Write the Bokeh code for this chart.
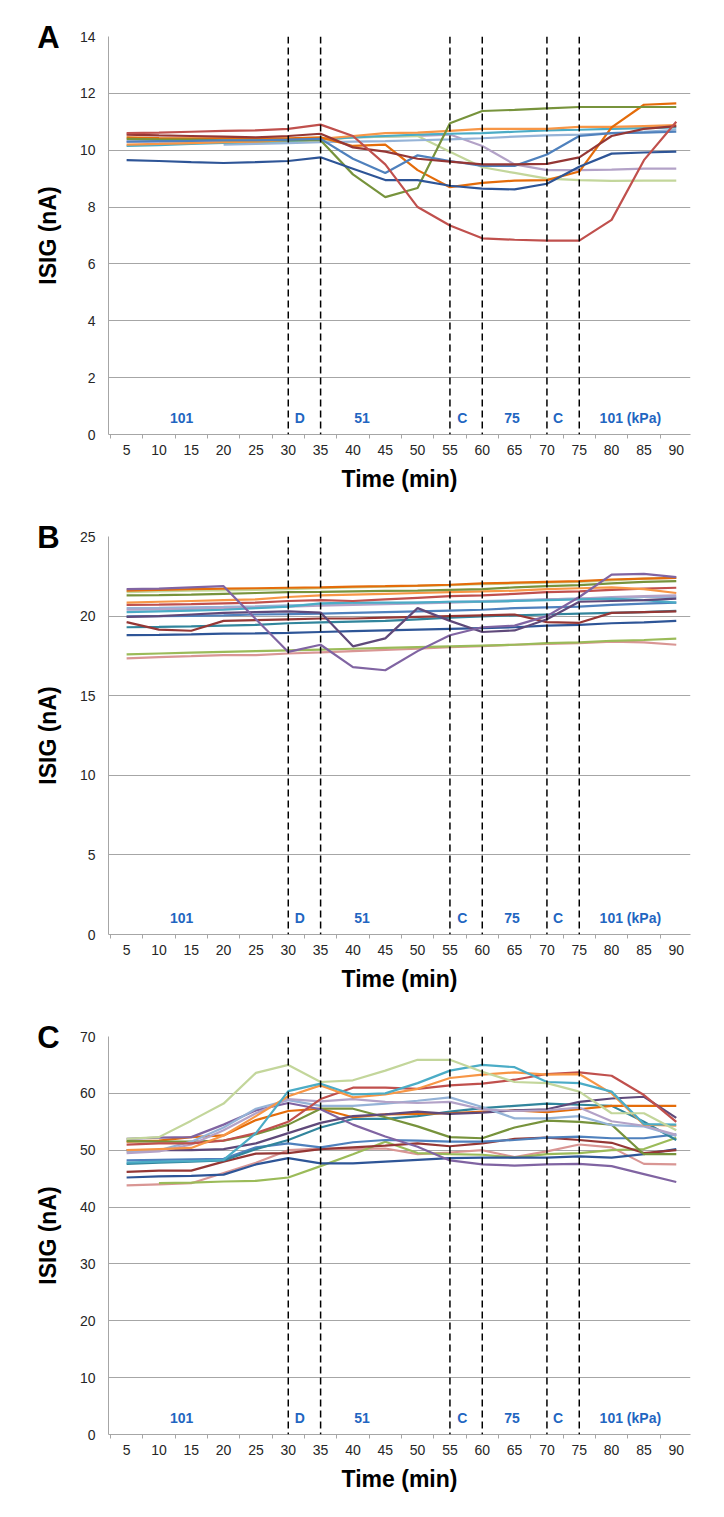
from bokeh.plotting import figure
from bokeh.models import Range1d, FixedTicker, Span, Label
from bokeh.layouts import column
from bokeh.embed import file_html
from bokeh.resources import INLINE

NaN = float("nan")

# ---------------- data ----------------
times = [5, 10, 15, 20, 25, 30, 35, 40, 45, 50, 55, 60, 65, 70, 75, 80, 85, 90]
phase_lines = [30, 35, 55, 60, 70, 75]
phase_texts = ["101", "D", "51", "C", "75", "C", "101 (kPa)"]
phase_pos = [13.5, 31.8, 41.4, 56.9, 64.6, 71.7, 82.9]

# Panel A
a_lavender = [10.3, 10.3, 10.3, 10.3, 10.32, 10.35, 10.4, 10.45, 10.48, 10.5, 10.55, 10.15, 9.5, 9.3, 9.3, 9.32, 9.35, 9.35]
a_lightgreen = [NaN, NaN, NaN, 10.25, 10.28, 10.3, 10.35, 10.45, 10.48, 10.5, 9.95, 9.4, 9.2, 9.0, 8.95, 8.92, 8.93, 8.93]
a_lightblue = [NaN, NaN, NaN, 10.2, 10.22, 10.25, 10.28, 10.3, 10.32, 10.35, 10.38, 10.42, 10.48, 10.52, 10.55, 10.6, 10.65, 10.72]
a_teal = [10.15, 10.18, 10.22, 10.26, 10.3, 10.33, 10.38, 10.45, 10.5, 10.55, 10.58, 10.6, 10.65, 10.7, 10.72, 10.75, 10.78, 10.8]
a_orange = [10.2, 10.22, 10.25, 10.28, 10.3, 10.35, 10.4, 10.5, 10.6, 10.62, 10.68, 10.75, 10.75, 10.75, 10.82, 10.82, 10.85, 10.88]
a_darkorange = [10.45, 10.43, 10.42, 10.42, 10.42, 10.42, 10.45, 10.15, 10.2, 9.3, 8.7, 8.85, 8.93, 8.95, 9.25, 10.8, 11.6, 11.65]
a_olive = [10.4, 10.38, 10.37, 10.35, 10.35, 10.35, 10.35, 9.15, 8.35, 8.67, 10.95, 11.38, 11.42, 11.47, 11.52, 11.52, 11.52, 11.52]
a_blue = [10.3, 10.32, 10.33, 10.35, 10.35, 10.37, 10.4, 9.7, 9.2, 9.82, 9.62, 9.45, 9.45, 9.85, 10.5, 10.6, 10.62, 10.65]
a_darkblue = [9.65, 9.62, 9.58, 9.55, 9.58, 9.62, 9.75, 9.35, 8.95, 8.95, 8.75, 8.65, 8.62, 8.82, 9.42, 9.88, 9.92, 9.95]
a_darkred = [10.55, 10.52, 10.5, 10.48, 10.45, 10.5, 10.58, 10.1, 9.95, 9.7, 9.6, 9.5, 9.5, 9.52, 9.75, 10.5, 10.75, 10.85]
a_red = [10.6, 10.62, 10.65, 10.68, 10.7, 10.75, 10.9, 10.5, 9.5, 8.0, 7.35, 6.9, 6.85, 6.82, 6.82, 7.55, 9.65, 11.0]

# Panel B
b_pink = [17.35, 17.42, 17.48, 17.55, 17.55, 17.65, 17.72, 17.8, 17.88, 17.95, 18.05, 18.12, 18.2, 18.25, 18.3, 18.4, 18.35, 18.2]
b_lime = [17.6, 17.65, 17.7, 17.75, 17.8, 17.85, 17.9, 17.95, 18.0, 18.05, 18.1, 18.15, 18.2, 18.3, 18.35, 18.45, 18.5, 18.58]
b_darkblue = [18.8, 18.82, 18.85, 18.9, 18.92, 18.95, 19.0, 19.05, 19.1, 19.15, 19.2, 19.25, 19.3, 19.4, 19.45, 19.55, 19.6, 19.7]
b_darkteal = [19.3, 19.32, 19.35, 19.4, 19.45, 19.55, 19.6, 19.65, 19.7, 19.8, 19.9, 19.98, 20.05, 20.1, 20.15, 20.2, 20.25, 20.33]
b_darkred = [19.62, 19.15, 19.08, 19.7, 19.75, 19.8, 19.85, 19.85, 19.9, 19.95, 20.0, 20.05, 20.1, 19.62, 19.58, 20.2, 20.25, 20.3]
b_blue = [19.98, 20.0, 20.02, 20.05, 20.1, 20.12, 20.15, 20.2, 20.25, 20.3, 20.35, 20.4, 20.5, 20.55, 20.6, 20.7, 20.78, 20.85]
b_lightblue = [20.5, 20.52, 20.55, 20.58, 20.62, 20.68, 20.72, 20.75, 20.8, 20.85, 20.9, 20.95, 21.0, 21.05, 21.1, 21.15, 21.2, 21.2]
b_lavender = [20.4, 20.42, 20.45, 20.5, 20.55, 20.6, 20.65, 20.7, 20.75, 20.8, 20.85, 20.9, 20.95, 21.05, 21.1, 21.2, 21.25, 21.3]
b_teal = [20.25, 20.3, 20.35, 20.4, 20.5, 20.6, 20.8, 20.85, 20.85, 20.85, 20.9, 20.9, 20.95, 21.0, 21.05, 21.1, 21.0, 20.85]
b_red = [20.7, 20.72, 20.75, 20.8, 20.85, 20.95, 21.0, 20.95, 21.05, 21.15, 21.25, 21.3, 21.4, 21.5, 21.55, 21.65, 21.72, 21.78]
b_orange = [20.85, 20.9, 20.95, 21.0, 21.05, 21.2, 21.3, 21.35, 21.4, 21.45, 21.5, 21.55, 21.6, 21.7, 21.75, 21.8, 21.7, 21.45]
b_green = [21.3, 21.32, 21.35, 21.4, 21.45, 21.5, 21.52, 21.55, 21.58, 21.6, 21.65, 21.7, 21.8, 21.88, 21.95, 22.05, 22.15, 22.2]
b_lightgreen = [21.5, 21.55, 21.6, 21.62, 21.65, 21.7, 21.75, 21.8, 21.85, 21.9, 21.95, 22.0, 22.05, 22.1, 22.15, 22.25, 22.35, 22.4]
b_darkorange = [21.6, 21.65, 21.7, 21.72, 21.75, 21.78, 21.8, 21.85, 21.88, 21.92, 21.97, 22.05, 22.1, 22.15, 22.2, 22.3, 22.35, 22.4]
b_darkpurple = [19.95, 20.0, 20.1, 20.2, 20.25, 20.3, 20.22, 18.1, 18.6, 20.5, 19.7, 19.0, 19.1, 19.8, 20.9, 20.95, 21.0, 21.1]
b_purple = [21.7, 21.72, 21.8, 21.88, 19.8, 17.75, 18.2, 16.8, 16.6, 17.8, 18.8, 19.3, 19.4, 20.0, 21.2, 22.6, 22.65, 22.45]

# Panel C
c_pink = [43.8, 44.0, 44.2, 46.0, 47.8, 50.0, 50.3, 50.2, 50.3, 49.3, 49.6, 50.0, 48.8, 49.8, 51.0, 50.5, 47.6, 47.5]
c_lime = [NaN, 44.2, 44.3, 44.5, 44.6, 45.2, 47.2, 49.3, 51.5, 49.5, 49.3, 49.2, 48.7, 49.3, 49.5, 50.0, 50.2, 52.2]
c_darkblue = [45.2, 45.4, 45.5, 45.7, 47.5, 48.6, 47.7, 47.7, 48.0, 48.3, 48.6, 48.7, 48.7, 48.7, 48.9, 48.7, 49.3, 50.2]
c_darkred = [46.2, 46.4, 46.4, 48.0, 49.4, 49.5, 50.2, 50.5, 50.8, 51.2, 50.7, 51.2, 52.0, 52.2, 51.8, 51.3, 49.5, 50.0]
c_blue = [48.2, 48.3, 48.4, 48.5, 50.5, 51.2, 50.5, 51.4, 51.8, 51.7, 51.5, 51.5, 51.8, 52.2, 52.4, 52.1, 52.1, 52.8]
c_darkteal = [47.6, 47.8, 48.0, 48.2, 50.2, 51.8, 54.0, 55.5, 55.5, 56.0, 56.8, 57.4, 57.8, 58.2, 58.0, 57.8, 55.0, 51.8]
c_darkorange = [51.5, 51.7, 52.3, 52.6, 55.3, 56.9, 57.3, 55.8, 56.3, 56.4, 56.5, 56.8, 57.0, 56.7, 57.2, 57.8, 57.8, 57.8]
c_olive = [51.6, 51.5, 51.5, 51.7, 52.8, 54.5, 57.3, 57.3, 55.8, 54.2, 52.3, 52.1, 54.0, 55.2, 55.0, 54.5, 49.3, 49.3]
c_purple = [52.0, 52.2, 52.3, 54.5, 57.0, 58.3, 57.2, 54.5, 52.4, 50.6, 48.2, 47.5, 47.3, 47.5, 47.6, 47.2, 45.8, 44.4]
c_darkpurple = [50.0, 50.0, 50.0, 50.2, 51.2, 53.0, 54.8, 56.0, 56.3, 56.8, 56.4, 56.6, 57.0, 57.2, 58.5, 59.1, 59.4, 55.7]
c_lightblue = [49.8, 50.0, 51.5, 54.0, 57.3, 58.8, 57.8, 57.8, 58.2, 58.7, 59.3, 57.6, 55.6, 55.6, 56.0, 54.4, 54.2, 52.5]
c_lavender = [49.5, 49.8, 51.0, 53.5, 56.5, 59.0, 58.6, 59.0, 58.5, 58.3, 58.5, 57.2, 56.9, 57.0, 57.5, 55.1, 54.3, 52.7]
c_red = [51.0, 51.2, 51.2, 51.7, 53.0, 55.0, 59.0, 61.0, 61.0, 60.8, 61.4, 61.7, 62.4, 63.4, 63.7, 63.1, 59.7, 55.0]
c_orange = [50.0, 50.2, 50.4, 52.6, 56.0, 59.5, 61.4, 59.3, 59.8, 60.8, 62.7, 63.3, 63.7, 63.3, 63.4, 60.0, 54.5, 54.3]
c_teal = [47.8, 48.0, 48.1, 48.3, 53.0, 60.4, 61.7, 59.8, 60.0, 61.8, 64.0, 65.0, 64.6, 62.0, 61.8, 60.3, 54.6, 54.5]
c_lightgreen = [52.0, 52.3, 55.2, 58.2, 63.6, 65.0, 62.0, 62.3, 64.0, 65.9, 65.9, 63.8, 62.0, 61.8, 60.3, 56.5, 56.5, 53.5]

COL = {
    "red": "#C0504D", "darkred": "#953735", "blue": "#4F81BD", "darkblue": "#2E5597",
    "olive": "#77933C", "green": "#77933C", "lime": "#9BBB59", "purple": "#8064A2",
    "darkpurple": "#5F497A", "teal": "#4BACC6", "darkteal": "#31859C", "orange": "#F79646",
    "darkorange": "#E46C0A", "lightgreen": "#C3D69B", "lavender": "#B3A2C7",
    "lightblue": "#95B3D7", "pink": "#D99694",
}

series_a = [("lavender", a_lavender), ("lightgreen", a_lightgreen), ("lightblue", a_lightblue),
            ("teal", a_teal), ("orange", a_orange), ("darkorange", a_darkorange), ("olive", a_olive),
            ("blue", a_blue), ("darkblue", a_darkblue), ("darkred", a_darkred), ("red", a_red)]
series_b = [("pink", b_pink), ("lime", b_lime), ("darkblue", b_darkblue), ("darkteal", b_darkteal),
            ("darkred", b_darkred), ("blue", b_blue), ("lightblue", b_lightblue), ("lavender", b_lavender),
            ("teal", b_teal), ("red", b_red), ("orange", b_orange), ("green", b_green),
            ("lightgreen", b_lightgreen), ("darkorange", b_darkorange), ("darkpurple", b_darkpurple),
            ("purple", b_purple)]
series_c = [("pink", c_pink), ("lime", c_lime), ("darkblue", c_darkblue), ("darkred", c_darkred),
            ("blue", c_blue), ("darkteal", c_darkteal), ("darkorange", c_darkorange), ("olive", c_olive),
            ("purple", c_purple), ("darkpurple", c_darkpurple), ("lightblue", c_lightblue),
            ("lavender", c_lavender), ("red", c_red), ("orange", c_orange), ("teal", c_teal),
            ("lightgreen", c_lightgreen)]

FONT = "Liberation Sans"
W, H = 708, 500
BL, BR, BT = 108, 18, 36
PH = 398
BB = H - BT - PH
X0, X1 = 2.2, 92.2


def panel(letter, series, ymax, ystep):
    p = figure(width=W, height=H, output_backend="svg", toolbar_location=None,
               x_range=Range1d(X0, X1), y_range=Range1d(0, ymax),
               min_border_left=BL, min_border_right=BR, min_border_top=BT, min_border_bottom=BB)
    p.outline_line_color = None
    p.background_fill_color = "white"
    p.border_fill_color = "white"

    p.xaxis.ticker = FixedTicker(ticks=times, minor_ticks=[t + 2.5 for t in [0] + times])
    p.yaxis.ticker = FixedTicker(ticks=list(range(0, ymax + 1, ystep)))
    p.xgrid.grid_line_color = None
    p.ygrid.grid_line_color = "#A6A6A6"
    p.ygrid.grid_line_width = 1

    for ax in (p.xaxis[0], p.yaxis[0]):
        ax.axis_line_color = "#A6A6A6"
        ax.major_tick_line_color = None
        ax.major_label_text_font = FONT
        ax.major_label_text_font_size = "14px"
        ax.major_label_text_color = "#262626"
        ax.axis_label_text_font = FONT
        ax.axis_label_text_font_style = "bold"
        ax.axis_label_text_font_size = "23px"
        ax.axis_label_text_color = "black"
    p.xaxis.minor_tick_line_color = "#A6A6A6"
    p.xaxis.minor_tick_out = 4
    p.xaxis.minor_tick_in = 0
    p.yaxis.minor_tick_line_color = None
    p.xaxis.major_label_standoff = 4
    p.yaxis.major_label_standoff = 7
    p.xaxis.axis_label = "Time (min)"
    p.yaxis.axis_label = "ISIG (nA)"
    p.xaxis.axis_label_standoff = 8
    p.yaxis.axis_label_standoff = 16

    for key, vals in series:
        p.line(times, vals, line_color=COL[key], line_width=2.2)

    for loc in phase_lines:
        p.add_layout(Span(location=loc, dimension="height", line_color="black",
                          line_width=1.5, line_dash="7 4"))

    for txt, xp in zip(phase_texts, phase_pos):
        p.add_layout(Label(x=xp, y=17, x_units="data", y_units="screen", text=txt,
                           text_font=FONT, text_font_style="bold", text_font_size="14px",
                           text_color="#1F66C1", text_align="center", text_baseline="middle"))

    p.add_layout(Label(x=39, y=PH - 1, x_units="screen", y_units="screen", text=letter,
                       text_font=FONT, text_font_style="bold", text_font_size="31px",
                       text_color="black", text_align="center", text_baseline="middle"), "left")
    return p


pa = panel("A", series_a, 14, 2)
pb = panel("B", series_b, 25, 5)
pc = panel("C", series_c, 70, 10)

layout = column(pa, pb, pc, spacing=0)
open("out.html", "w").write(file_html(layout, INLINE))
